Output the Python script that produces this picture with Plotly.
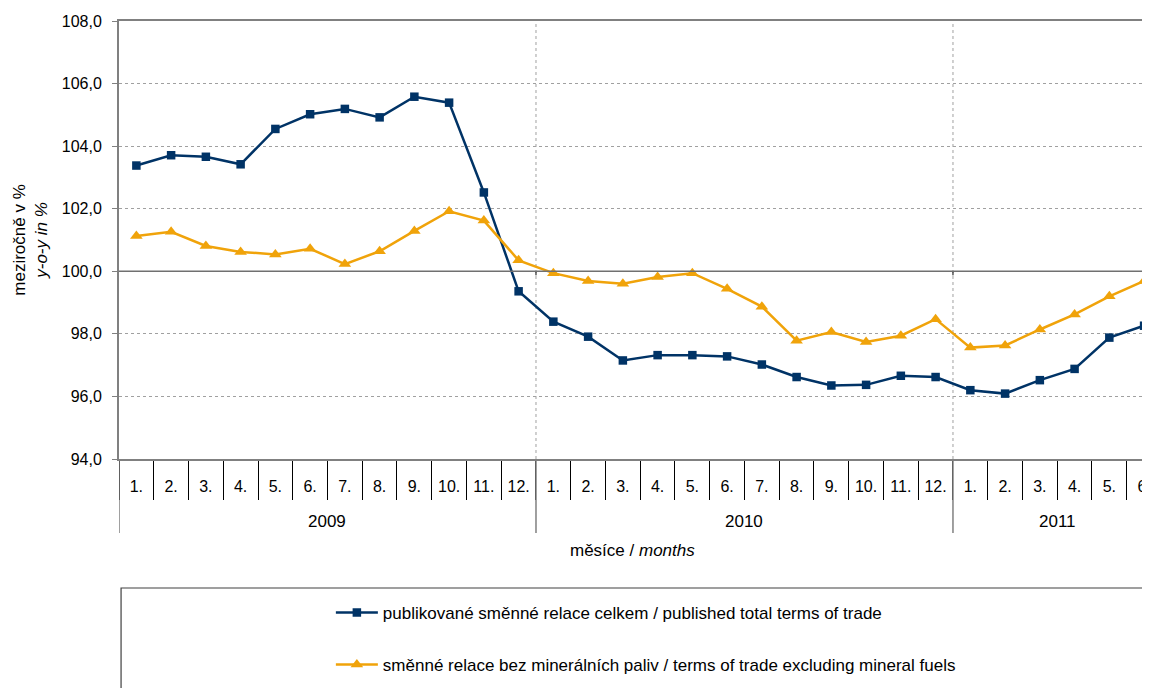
import plotly.graph_objects as go

# -------------------------
# DATA
# -------------------------
months = ["1.", "2.", "3.", "4.", "5.", "6.", "7.", "8.", "9.", "10.", "11.", "12.",
          "1.", "2.", "3.", "4.", "5.", "6.", "7.", "8.", "9.", "10.", "11.", "12.",
          "1.", "2.", "3.", "4.", "5.", "6."]
years = ["2009", "2010", "2011"]
year_months = [12, 12, 6]

total_tot = [103.38, 103.71, 103.66, 103.42, 104.55, 105.02, 105.19, 104.92, 105.58, 105.39, 102.52, 99.36,
             98.39, 97.91, 97.15, 97.32, 97.32, 97.28, 97.02, 96.62, 96.35, 96.37, 96.66, 96.62,
             96.20, 96.09, 96.52, 96.88, 97.88, 98.26]
excl_fuels = [101.13, 101.26, 100.81, 100.62, 100.54, 100.72, 100.23, 100.64, 101.29, 101.92, 101.62, 100.35,
              99.94, 99.69, 99.60, 99.82, 99.94, 99.44, 98.87, 97.78, 98.06, 97.74, 97.94, 98.47,
              97.56, 97.63, 98.14, 98.62, 99.20, 99.69]

name_total = "publikované směnné relace celkem / published total terms of trade"
name_excl = "směnné relace bez minerálních paliv / terms of trade excluding mineral fuels"

BLUE = "#003366"
ORANGE = "#F0A30A"
GRAY = "#808080"
FONT = "Arial, Liberation Sans, sans-serif"
FS = 16      # tick labels
FS_TXT = 17  # titles, years, legend

x = list(range(len(months)))

fig = go.Figure()

fig.add_trace(go.Scatter(
    x=x, y=total_tot, mode="lines+markers", name=name_total,
    line=dict(color=BLUE, width=2.5),
    marker=dict(symbol="square", size=8.5, color=BLUE),
    legend="legend", cliponaxis=False,
))
fig.add_trace(go.Scatter(
    x=x, y=excl_fuels, mode="lines+markers", name=name_excl,
    line=dict(color=ORANGE, width=2.5),
    marker=dict(symbol="triangle-up", size=11, color=ORANGE),
    legend="legend2", cliponaxis=False,
))

# -------------------------
# YEAR BLOCKS (separators + labels)
# -------------------------
shapes = []
annotations = []
start = -0.5
for yr, n in zip(years, year_months):
    end = start + n
    shapes.append(dict(type="line", xref="x", yref="paper", x0=start, x1=start,
                       y0=0, y1=-0.169, line=dict(color=GRAY, width=1.5)))
    if start > 0:
        # dotted gridline inside the plot
        shapes.append(dict(type="line", xref="x", yref="paper", x0=start, x1=start,
                           y0=0, y1=1, line=dict(color="#A0A0A0", width=1, dash="dot"),
                           layer="below"))
        # small tick on the 100 line
        shapes.append(dict(type="line", xref="x", yref="y", x0=start, x1=start,
                           y0=100, y1=99.87, line=dict(color="black", width=1)))
    annotations.append(dict(text=yr, xref="x", yref="paper", x=(start + end) / 2,
                            y=-0.1416, showarrow=False, yanchor="middle",
                            font=dict(size=FS_TXT, color="black", family=FONT)))
    start = end

# axis line at 100
shapes.append(dict(type="line", xref="paper", yref="y", x0=0, x1=1, y0=100, y1=100,
                   line=dict(color="#707070", width=1.5)))

# legend box
shapes.append(dict(type="rect", xref="paper", yref="paper", x0=0.002, x1=1.02,
                   y0=-0.2945, y1=-0.56, line=dict(color="#404040", width=1.2)))

annotations.append(dict(text="měsíce / <i>months</i>", xref="paper", yref="paper",
                        x=0.4985, y=-0.210, showarrow=False, yanchor="middle",
                        font=dict(size=FS_TXT, color="black", family=FONT)))

# -------------------------
# STYLE
# -------------------------
fig.update_layout(
    width=1142, height=680,
    margin=dict(l=111, r=0, t=13, b=229, autoexpand=False),
    paper_bgcolor="white", plot_bgcolor="white",
    font=dict(family=FONT, size=FS, color="black"),
    separators=", ",
    showlegend=True,
    legend=dict(x=0.2055, y=-0.3516, xanchor="left", yanchor="middle", itemwidth=42,
                bgcolor="rgba(0,0,0,0)", font=dict(size=FS_TXT)),
    legend2=dict(x=0.2055, y=-0.4703, xanchor="left", yanchor="middle", itemwidth=42,
                 bgcolor="rgba(0,0,0,0)", font=dict(size=FS_TXT)),
    shapes=shapes,
    annotations=annotations,
)

fig.update_xaxes(
    range=[-0.5, 29.17], automargin=False, ticklabeloverflow="allow",
    tickmode="array", tickvals=x, ticktext=months,
    ticks="outside", ticklen=12, tickcolor="rgba(0,0,0,0)",
    minor=dict(tickmode="array", tickvals=[i - 0.5 for i in range(len(months) + 1)],
               ticks="outside", ticklen=39, tickcolor="black", tickwidth=1),
    showgrid=False, zeroline=False,
    showline=True, linecolor=GRAY, linewidth=2, mirror=True,
    tickfont=dict(size=FS, color="black"),
)

fig.update_yaxes(
    range=[94, 108], dtick=2, tick0=94, tickformat=".1f", automargin=False,
    ticks="outside", ticklen=5, tickcolor=GRAY, ticklabelstandoff=7,
    showgrid=True, gridcolor="#A0A0A0", griddash="dot", gridwidth=1,
    zeroline=False,
    showline=True, linecolor=GRAY, linewidth=2,
    tickfont=dict(size=FS, color="black"),
    title=dict(text="meziročně v %<br><i>y-o-y in %</i>", font=dict(size=FS_TXT), standoff=10),
)

fig.write_html("out.html")
